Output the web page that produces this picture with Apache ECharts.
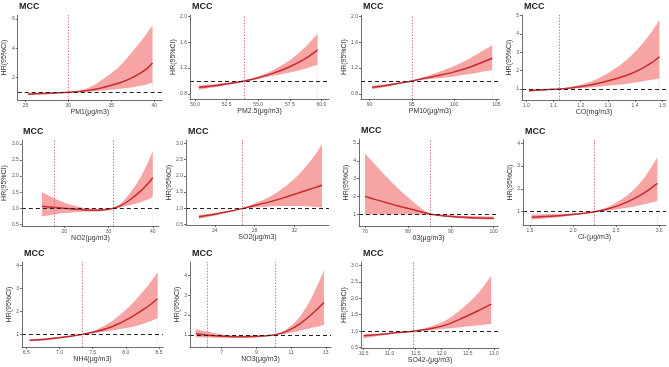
<!DOCTYPE html>
<html>
<head>
<meta charset="utf-8">
<script src="https://cdn.jsdelivr.net/npm/echarts@6/dist/echarts.min.js"></script>
<style>
  html, body { margin: 0; padding: 0; background: #fff; }
  #main { width: 669px; height: 367px; }
</style>
</head>
<body>
<div id="main"></div>
<script>
// values: x, HR, lower CI, upper CI, reference lines, ticks

// PM1
const pm1X = [25.3, 27, 28.5, 30, 31.5, 33, 34.5, 36, 37.5, 39, 39.8];
const pm1Hr = [0.88, 0.92, 0.96, 1.0, 1.07, 1.2, 1.4, 1.65, 2.02, 2.55, 3.0];
const pm1Lo = [0.82, 0.87, 0.93, 0.98, 1.02, 1.08, 1.15, 1.24, 1.35, 1.52, 1.65];
const pm1Hi = [0.95, 0.97, 0.99, 1.02, 1.15, 1.5, 2.1, 2.8, 3.8, 4.9, 5.55];
const pm1Ref = [30];
const pm1XTicks = [25, 30, 35, 40];
const pm1YTicks = [2, 4, 6];

// PM2.5
const pm25X = [50.3, 51.5, 52.7, 53.9, 55, 56.2, 57.5, 58.7, 59.7];
const pm25Hr = [0.90, 0.925, 0.96, 1.0, 1.05, 1.12, 1.22, 1.34, 1.48];
const pm25Lo = [0.86, 0.9, 0.945, 0.99, 1.03, 1.08, 1.13, 1.19, 1.25];
const pm25Hi = [0.93, 0.95, 0.975, 1.01, 1.07, 1.17, 1.32, 1.52, 1.73];
const pm25Ref = [53.9];
const pm25XTicks = [50, 52.5, 55, 57.5, 60];
const pm25YTicks = [0.8, 1.2, 1.6, 2.0];

// PM10
const pm10X = [90.3, 92, 93.5, 95, 96.5, 98, 100, 102, 104.5];
const pm10Hr = [0.90, 0.93, 0.965, 1.0, 1.04, 1.08, 1.14, 1.22, 1.35];
const pm10Lo = [0.87, 0.91, 0.955, 0.995, 1.02, 1.04, 1.07, 1.11, 1.17];
const pm10Hi = [0.93, 0.95, 0.975, 1.005, 1.06, 1.13, 1.23, 1.36, 1.55];
const pm10Ref = [95];
const pm10XTicks = [90, 95, 100, 105];
const pm10YTicks = [0.8, 1.2, 1.6, 2.0];

// CO
const coX = [1.01, 1.05, 1.08, 1.12, 1.17, 1.22, 1.27, 1.32, 1.37, 1.42, 1.46, 1.49];
const coHr = [0.91, 0.94, 0.97, 1.0, 1.07, 1.18, 1.33, 1.52, 1.75, 2.07, 2.42, 2.76];
const coLo = [0.85, 0.9, 0.95, 0.99, 1.02, 1.07, 1.13, 1.2, 1.29, 1.4, 1.5, 1.58];
const coHi = [0.97, 0.98, 0.99, 1.01, 1.14, 1.32, 1.62, 2.05, 2.6, 3.35, 4.1, 4.75];
const coRef = [1.12];
const coXTicks = [1.0, 1.1, 1.2, 1.3, 1.4, 1.5];
const coYTicks = [1, 2, 3, 4, 5];

// NO2
const no2X = [15, 17.5, 20, 22.5, 25, 27.5, 29.5, 31.1, 33, 35, 37, 39, 40];
const no2Hr = [1.06, 1.03, 1.0, 0.97, 0.95, 0.94, 0.96, 1.0, 1.1, 1.28, 1.5, 1.78, 1.95];
const no2Lo = [0.75, 0.8, 0.85, 0.88, 0.9, 0.9, 0.93, 0.99, 1.04, 1.1, 1.18, 1.28, 1.35];
const no2Hi = [1.5, 1.33, 1.18, 1.07, 1.0, 0.98, 0.985, 1.01, 1.18, 1.5, 1.9, 2.45, 2.77];
const no2Ref = [17.8, 31.1];
const no2XTicks = [20, 30, 40];
const no2YTicks = [0.5, 1.0, 1.5, 2.0, 2.5, 3.0];

// SO2
const so2X = [22.4, 24, 25.5, 26.8, 28, 29.5, 31, 32.5, 34, 34.8];
const so2Hr = [0.74, 0.82, 0.91, 1.0, 1.09, 1.2, 1.33, 1.48, 1.63, 1.71];
const so2Lo = [0.68, 0.78, 0.89, 0.99, 1.03, 1.06, 1.07, 1.07, 1.05, 1.03];
const so2Hi = [0.8, 0.86, 0.93, 1.01, 1.15, 1.35, 1.65, 2.05, 2.6, 2.98];
const so2Ref = [26.8];
const so2XTicks = [24, 28, 32];
const so2YTicks = [0.5, 1.0, 1.5, 2.0, 2.5, 3.0];

// O3
const o3X = [70, 72.5, 75, 77.5, 80, 82.5, 85.3, 88, 91, 94, 97, 100];
const o3Hr = [2.0, 1.82, 1.65, 1.48, 1.33, 1.17, 1.0, 0.92, 0.86, 0.82, 0.79, 0.78];
const o3Lo = [0.97, 0.98, 0.99, 1.0, 1.0, 0.99, 0.99, 0.88, 0.8, 0.75, 0.72, 0.7];
const o3Hi = [4.4, 3.75, 3.1, 2.5, 1.95, 1.45, 1.01, 0.97, 0.93, 0.9, 0.88, 0.86];
const o3Ref = [85.3];
const o3XTicks = [70, 80, 90, 100];
const o3YTicks = [1, 2, 3, 4, 5];

// Cl-
const clX = [1.52, 1.7, 1.9, 2.1, 2.25, 2.4, 2.55, 2.7, 2.85, 2.98];
const clHr = [0.76, 0.8, 0.85, 0.92, 1.0, 1.12, 1.3, 1.55, 1.88, 2.24];
const clLo = [0.65, 0.71, 0.79, 0.89, 0.99, 1.05, 1.13, 1.22, 1.35, 1.47];
const clHi = [0.88, 0.89, 0.91, 0.95, 1.01, 1.2, 1.5, 1.95, 2.6, 3.38];
const clRef = [2.25];
const clXTicks = [1.5, 2.0, 2.5, 3.0];
const clYTicks = [1, 2, 3, 4];

// NH4
const nh4X = [6.55, 6.8, 7.05, 7.34, 7.55, 7.8, 8.05, 8.3, 8.48];
const nh4Hr = [0.75, 0.8, 0.88, 1.0, 1.13, 1.35, 1.7, 2.15, 2.55];
const nh4Lo = [0.7, 0.76, 0.85, 0.99, 1.07, 1.17, 1.3, 1.5, 1.7];
const nh4Hi = [0.8, 0.84, 0.91, 1.01, 1.2, 1.6, 2.2, 3.0, 3.7];
const nh4Ref = [7.34];
const nh4XTicks = [6.5, 7.0, 7.5, 8.0, 8.5];
const nh4YTicks = [1, 2, 3, 4];

// NO3
const no3X = [5.5, 6.2, 7, 8, 9, 10.07, 10.8, 11.5, 12.2, 12.9];
const no3Hr = [1.05, 0.98, 0.93, 0.9, 0.92, 1.0, 1.2, 1.55, 2.05, 2.63];
const no3Lo = [0.88, 0.86, 0.85, 0.85, 0.88, 0.99, 1.07, 1.2, 1.35, 1.5];
const no3Hi = [1.28, 1.15, 1.02, 0.96, 0.96, 1.01, 1.32, 1.9, 2.9, 4.25];
const no3Ref = [6.19, 10.07];
const no3XTicks = [7, 9, 11, 13];
const no3YTicks = [1, 2, 3, 4];

// SO42-
const so4X = [10.5, 10.8, 11.1, 11.45, 11.8, 12.1, 12.4, 12.7, 12.95];
const so4Hr = [0.86, 0.9, 0.95, 1.0, 1.08, 1.2, 1.4, 1.62, 1.82];
const so4Lo = [0.78, 0.86, 0.93, 0.99, 1.03, 1.08, 1.13, 1.18, 1.22];
const so4Hi = [0.9, 0.93, 0.97, 1.01, 1.15, 1.35, 1.7, 2.15, 2.68];
const so4Ref = [11.45];
const so4XTicks = [10.5, 11.0, 11.5, 12.0, 12.5, 13.0];
const so4YTicks = [0.5, 1.0, 1.5, 2.0, 2.5, 3.0];

// panel list (data + axis extents), layout is kept separately below
const panels = [
  { x: pm1X, hr: pm1Hr, lo: pm1Lo, hi: pm1Hi, ref: pm1Ref, xt: pm1XTicks, yt: pm1YTicks, name: 'PM1(μg/m3)', xr: [24.1, 40.9], yr: [0.48, 6.27], xd: 0, yd: 0 },
  { x: pm25X, hr: pm25Hr, lo: pm25Lo, hi: pm25Hi, ref: pm25Ref, xt: pm25XTicks, yt: pm25YTicks, name: 'PM2.5(μg/m3)', xr: [49.6, 60.6], yr: [0.72, 2.02], xd: 1, yd: 1 },
  { x: pm10X, hr: pm10Hr, lo: pm10Lo, hi: pm10Hi, ref: pm10Ref, xt: pm10XTicks, yt: pm10YTicks, name: 'PM10(μg/m3)', xr: [89, 105.3], yr: [0.72, 2.02], xd: 0, yd: 1 },
  { x: coX, hr: coHr, lo: coLo, hi: coHi, ref: coRef, xt: coXTicks, yt: coYTicks, name: 'CO(mg/m3)', xr: [0.984, 1.514], yr: [0.4, 5.04], xd: 1, yd: 0 },
  { x: no2X, hr: no2Hr, lo: no2Lo, hi: no2Hi, ref: no2Ref, xt: no2XTicks, yt: no2YTicks, name: 'NO2(μg/m3)', xr: [10.45, 41.4], yr: [0.45, 3.12], xd: 0, yd: 1 },
  { x: so2X, hr: so2Hr, lo: so2Lo, hi: so2Hi, ref: so2Ref, xt: so2XTicks, yt: so2YTicks, name: 'SO2(μg/m3)', xr: [21.1, 35.5], yr: [0.49, 3.1], xd: 0, yd: 1 },
  { x: o3X, hr: o3Hr, lo: o3Lo, hi: o3Hi, ref: o3Ref, xt: o3XTicks, yt: o3YTicks, name: '03(μg/m3)', xr: [68.6, 101], yr: [0.34, 5.22], xd: 0, yd: 0 },
  { x: clX, hr: clHr, lo: clLo, hi: clHi, ref: clRef, xt: clXTicks, yt: clYTicks, name: 'Cl-(μg/m3)', xr: [1.42, 3.08], yr: [0.42, 4.14], xd: 1, yd: 0 },
  { x: nh4X, hr: nh4Hr, lo: nh4Lo, hi: nh4Hi, ref: nh4Ref, xt: nh4XTicks, yt: nh4YTicks, name: 'NH4(μg/m3)', xr: [6.435, 8.56], yr: [0.46, 4.14], xd: 1, yd: 0 },
  { x: no3X, hr: no3Hr, lo: no3Lo, hi: no3Hi, ref: no3Ref, xt: no3XTicks, yt: no3YTicks, name: 'NO3(μg/m3)', xr: [5.17, 13.3], yr: [0.385, 4.67], xd: 0, yd: 0 },
  { x: so4X, hr: so4Hr, lo: so4Lo, hi: so4Hi, ref: so4Ref, xt: so4XTicks, yt: so4YTicks, name: 'SO42-(μg/m3)', xr: [10.45, 13.1], yr: [0.49, 3.1], xd: 1, yd: 1 },
];

// grid boxes [left, top, width, height] in px
const boxes = [
  [17, 15, 145, 85], [190, 15, 139, 84], [361, 15, 138, 84], [522, 15, 144, 85],
  [21, 140, 138, 86], [186, 140, 143, 85], [359, 139, 139, 87], [523, 140, 143, 85],
  [22, 262, 141, 85], [190, 262, 141, 85], [361, 262, 138, 86],
];

const FONT = 'Liberation Sans, Arial, sans-serif';
const AXIS_COLOR = '#4a4a4a';
const BAND_COLOR = '#f7a4a4';
const LINE_COLOR = '#c62a2e';
const REF_COLOR = '#d9575a';

const grids = [], xAxes = [], yAxes = [], series = [], titles = [];

panels.forEach((p, i) => {
  const b = boxes[i];
  grids.push({ left: b[0], top: b[1], width: b[2], height: b[3] });
  titles.push({
    text: 'MCC', left: b[0] + 2, top: b[1] - 13, padding: 0,
    textStyle: { fontSize: 9, fontWeight: 'bold', color: '#1e1e1e', fontFamily: FONT },
  });

  xAxes.push({
    gridIndex: i, type: 'value', min: p.xr[0], max: p.xr[1], z: 5,
    name: p.name, nameLocation: 'middle', nameGap: 9,
    nameTextStyle: { fontSize: 7, color: '#333', fontFamily: FONT },
    axisLine: { show: true, onZero: false, lineStyle: { color: AXIS_COLOR, width: 0.8 } },
    axisTick: { show: true, length: 2, customValues: p.xt, lineStyle: { color: AXIS_COLOR, width: 0.8 } },
    axisLabel: {
      customValues: p.xt, fontSize: 5, color: '#555', margin: 3, fontFamily: FONT,
      formatter: v => Number(v).toFixed(p.xd),
    },
    splitLine: { show: false },
  });

  yAxes.push({
    gridIndex: i, type: 'value', min: p.yr[0], max: p.yr[1], z: 5,
    name: 'HR(95%CI)', nameLocation: 'middle', nameGap: p.yd ? 10 : 7,
    nameTextStyle: { fontSize: 7, color: '#333', fontFamily: FONT },
    axisLine: { show: true, onZero: false, lineStyle: { color: AXIS_COLOR, width: 0.8 } },
    axisTick: { show: true, length: 2, customValues: p.yt, lineStyle: { color: AXIS_COLOR, width: 0.8 } },
    axisLabel: {
      customValues: p.yt, fontSize: 5, color: '#555', margin: 3, fontFamily: FONT,
      formatter: v => Number(v).toFixed(p.yd),
    },
    splitLine: { show: false },
  });

  // upper CI filled down to the axis, then lower CI filled white on top -> band
  series.push({
    type: 'line', xAxisIndex: i, yAxisIndex: i, smooth: 0.3, z: 1,
    symbol: 'none', lineStyle: { width: 0 }, silent: true,
    areaStyle: { color: BAND_COLOR, opacity: 1, origin: 'start' },
    data: p.x.map((x, k) => [x, p.hi[k]]),
  });
  series.push({
    type: 'line', xAxisIndex: i, yAxisIndex: i, smooth: 0.3, z: 2,
    symbol: 'none', lineStyle: { width: 0 }, silent: true,
    areaStyle: { color: '#ffffff', opacity: 1, origin: 'start' },
    data: p.x.map((x, k) => [x, p.lo[k]]),
  });
  // HR curve with reference lines
  const marks = [{ yAxis: 1, lineStyle: { color: '#222', type: [4, 3], width: 1.2 } }];
  p.ref.forEach(r => marks.push({ xAxis: r, lineStyle: { color: REF_COLOR, type: [1.5, 1.5], width: 0.8 } }));
  series.push({
    type: 'line', xAxisIndex: i, yAxisIndex: i, smooth: 0.3, z: 3,
    symbol: 'none', lineStyle: { color: LINE_COLOR, width: 1.5 },
    data: p.x.map((x, k) => [x, p.hr[k]]),
    markLine: { silent: true, symbol: ['none', 'none'], label: { show: false }, animation: false, data: marks },
  });
});

const myChart = echarts.init(document.getElementById('main'), null, { renderer: 'canvas' });
myChart.setOption({
  animation: false,
  backgroundColor: '#fff',
  title: titles,
  grid: grids,
  xAxis: xAxes,
  yAxis: yAxes,
  series: series,
});
</script>
</body>
</html>
